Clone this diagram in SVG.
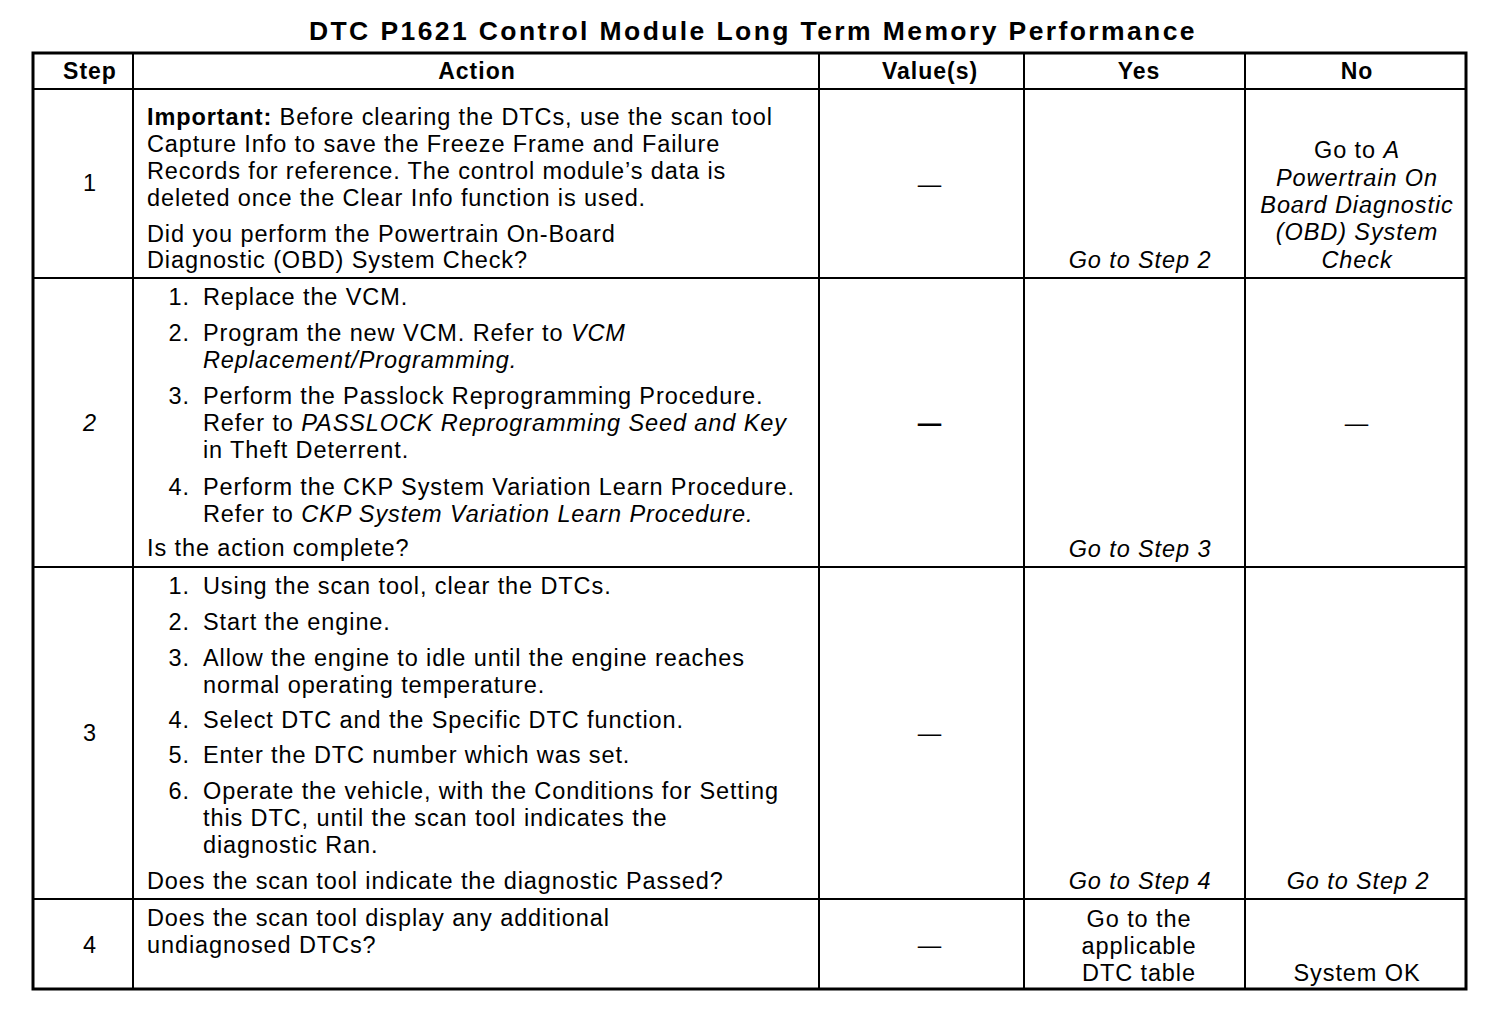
<svg xmlns="http://www.w3.org/2000/svg" width="1504" height="1018" viewBox="0 0 1504 1018">
<style>
text{font-family:"Liberation Sans",Arial,sans-serif;font-size:23.5px;fill:#000;letter-spacing:0.9px}
.t{font-size:26.5px;font-weight:bold;letter-spacing:2.4px}
.h{font-weight:bold;font-size:23px;letter-spacing:1px}
.c{text-anchor:middle}
.e{text-anchor:end}
.i{font-style:italic}
.b{font-weight:bold}
.grid line{stroke:#000;stroke-width:2}
.outer{fill:none;stroke:#000;stroke-width:3}
</style>
<rect width="1504" height="1018" fill="#fff"/>
<text class="t c" x="753" y="40">DTC P1621 Control Module Long Term Memory Performance</text>
<g id="grid" class="grid">
<rect class="outer" x="33" y="53" width="1433" height="936"/>
<line x1="133" y1="53" x2="133" y2="989"/>
<line x1="819" y1="53" x2="819" y2="989"/>
<line x1="1024" y1="53" x2="1024" y2="989"/>
<line x1="1245" y1="53" x2="1245" y2="989"/>
<line x1="33" y1="89" x2="1466" y2="89"/>
<line x1="33" y1="278" x2="1466" y2="278"/>
<line x1="33" y1="567" x2="1466" y2="567"/>
<line x1="33" y1="899" x2="1466" y2="899"/>
</g>
<g id="header">
<text class="h c" x="90" y="79">Step</text>
<text class="h c" x="477" y="79">Action</text>
<text class="h c" x="930" y="79">Value(s)</text>
<text class="h c" x="1139" y="79">Yes</text>
<text class="h c" x="1357" y="79">No</text>
</g>
<g id="row1">
<text class="c" x="90" y="191">1</text>
<text x="147" y="125"><tspan class="b">Important:</tspan> Before clearing the DTCs, use the scan tool</text>
<text x="147" y="152">Capture Info to save the Freeze Frame and Failure</text>
<text x="147" y="179">Records for reference. The control module’s data is</text>
<text x="147" y="206">deleted once the Clear Info function is used.</text>
<text x="147" y="242">Did you perform the Powertrain On-Board</text>
<text x="147" y="268">Diagnostic (OBD) System Check?</text>
<text class="c" x="930" y="192">—</text>
<text class="c i" x="1140" y="268">Go to Step 2</text>
<text class="c" x="1357" y="158">Go to <tspan class="i">A</tspan></text>
<text class="c i" x="1357" y="186">Powertrain On</text>
<text class="c i" x="1357" y="213">Board Diagnostic</text>
<text class="c i" x="1357" y="240">(OBD) System</text>
<text class="c i" x="1357" y="268">Check</text>
</g>
<g id="row2">
<text class="c i" x="90" y="431">2</text>
<text class="e" x="190" y="305">1.</text>
<text x="203" y="305">Replace the VCM.</text>
<text class="e" x="190" y="341">2.</text>
<text x="203" y="341">Program the new VCM. Refer to <tspan class="i">VCM</tspan></text>
<text x="203" y="368" class="i">Replacement/Programming.</text>
<text class="e" x="190" y="404">3.</text>
<text x="203" y="404">Perform the Passlock Reprogramming Procedure.</text>
<text x="203" y="431">Refer to <tspan class="i">PASSLOCK Reprogramming Seed and Key</tspan></text>
<text x="203" y="458">in Theft Deterrent.</text>
<text class="e" x="190" y="495">4.</text>
<text x="203" y="495">Perform the CKP System Variation Learn Procedure.</text>
<text x="203" y="522">Refer to <tspan class="i">CKP System Variation Learn Procedure.</tspan></text>
<text x="147" y="556">Is the action complete?</text>
<text class="c b" x="930" y="431">—</text>
<text class="c i" x="1140" y="557">Go to Step 3</text>
<text class="c" x="1357" y="431">—</text>
</g>
<g id="row3">
<text class="c" x="90" y="741">3</text>
<text class="e" x="190" y="594">1.</text>
<text x="203" y="594">Using the scan tool, clear the DTCs.</text>
<text class="e" x="190" y="630">2.</text>
<text x="203" y="630">Start the engine.</text>
<text class="e" x="190" y="666">3.</text>
<text x="203" y="666">Allow the engine to idle until the engine reaches</text>
<text x="203" y="693">normal operating temperature.</text>
<text class="e" x="190" y="728">4.</text>
<text x="203" y="728">Select DTC and the Specific DTC function.</text>
<text class="e" x="190" y="763">5.</text>
<text x="203" y="763">Enter the DTC number which was set.</text>
<text class="e" x="190" y="799">6.</text>
<text x="203" y="799">Operate the vehicle, with the Conditions for Setting</text>
<text x="203" y="826">this DTC, until the scan tool indicates the</text>
<text x="203" y="853">diagnostic Ran.</text>
<text x="147" y="889">Does the scan tool indicate the diagnostic Passed?</text>
<text class="c" x="930" y="741">—</text>
<text class="c i" x="1140" y="889">Go to Step 4</text>
<text class="c i" x="1358" y="889">Go to Step 2</text>
</g>
<g id="row4">
<text class="c" x="90" y="953">4</text>
<text x="147" y="926">Does the scan tool display any additional</text>
<text x="147" y="953">undiagnosed DTCs?</text>
<text class="c" x="930" y="953">—</text>
<text class="c" x="1139" y="927">Go to the</text>
<text class="c" x="1139" y="954">applicable</text>
<text class="c" x="1139" y="981">DTC table</text>
<text class="c" x="1357" y="981">System OK</text>
</g>
</svg>
